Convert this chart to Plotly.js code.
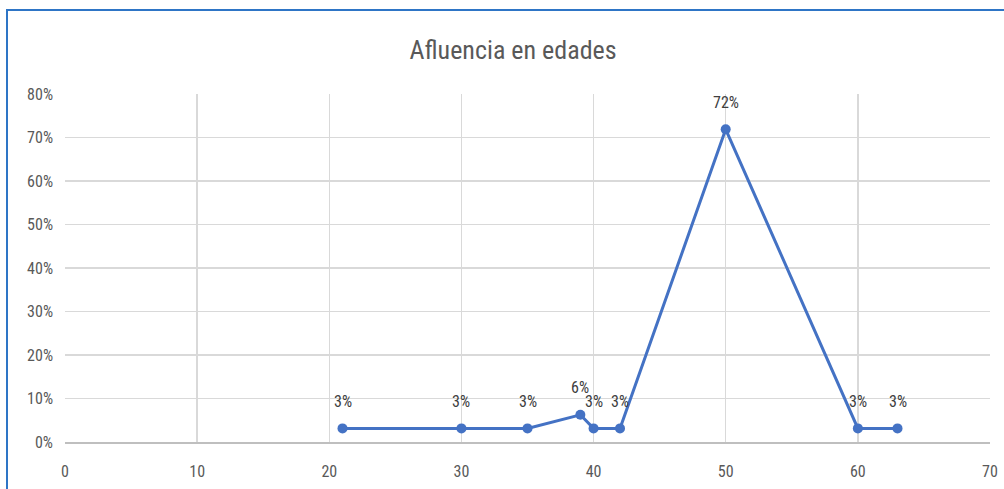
<!DOCTYPE html>
<html>
<head>
<meta charset="utf-8">
<script src="https://cdn.plot.ly/plotly-3.0.1.min.js"></script>
<style>
html,body{margin:0;padding:0;background:#fff;overflow:hidden;}
#frame{position:absolute;left:6px;top:9px;width:1100px;height:600px;border:2px solid #2e75c6;box-sizing:border-box;}
#chart{position:absolute;left:0;top:0;width:1004px;height:489px;}
</style>
</head>
<body>
<div id="frame"></div>
<div id="chart"></div>
<script>
var ages = [21, 30, 35, 39, 40, 42, 50, 60, 63];
var shares = [0.03125, 0.03125, 0.03125, 0.0625, 0.03125, 0.03125, 0.71875, 0.03125, 0.03125];
var labels = ["3%", "3%", "3%", "6%", "3%", "3%", "72%", "3%", "3%"];
var xTicks = [0, 10, 20, 30, 40, 50, 60, 70];
var yTicks = [0, 0.1, 0.2, 0.3, 0.4, 0.5, 0.6, 0.7, 0.8];
var yTickText = ["0%", "10%", "20%", "30%", "40%", "50%", "60%", "70%", "80%"];
var chartTitle = "Afluencia en edades";

var fontFam = "'Roboto Condensed', 'Liberation Sans Narrow', 'Open Sans', sans-serif";
var trace = {
  x: ages, y: shares, type: 'scatter', mode: 'lines+markers',
  line: {color: '#4472c4', width: 3},
  marker: {color: '#4472c4', size: 10},
  hoverinfo: 'none'
};
var annotations = ages.map(function(a, i){
  return {x: a, y: shares[i], xref: 'x', yref: 'y', text: labels[i], showarrow: false,
    yshift: 27, font: {family: fontFam, size: 16, color: '#404040'}};
});
var layout = {
  width: 1004, height: 489,
  paper_bgcolor: 'rgba(0,0,0,0)', plot_bgcolor: 'rgba(0,0,0,0)',
  margin: {l: 65, r: 14, t: 94, b: 47},
  showlegend: false,
  title: {text: chartTitle, x: 0.511, xanchor: 'center', y: 0.897, yanchor: 'middle',
    font: {family: fontFam, size: 26, color: '#595959'}},
  xaxis: {range: [0, 70], tickvals: xTicks, ticktext: xTicks.map(String), showgrid: true,
    gridcolor: '#d9d9d9', gridwidth: 1.3, zeroline: false, showline: true, linecolor: '#bfbfbf',
    linewidth: 2, ticks: '', ticklen: 0, ticklabelstandoff: 14,
    tickfont: {family: fontFam, size: 16, color: '#595959'}, fixedrange: true},
  yaxis: {range: [0, 0.8], tickvals: yTicks, ticktext: yTickText, showgrid: true,
    gridcolor: '#d9d9d9', gridwidth: 1.3, zeroline: false, showline: false, ticks: '',
    ticklabelstandoff: 11,
    tickfont: {family: fontFam, size: 16, color: '#595959'}, fixedrange: true},
  annotations: annotations
};
Plotly.newPlot('chart', [trace], layout, {displayModeBar: false, staticPlot: true});
</script>
</body>
</html>
